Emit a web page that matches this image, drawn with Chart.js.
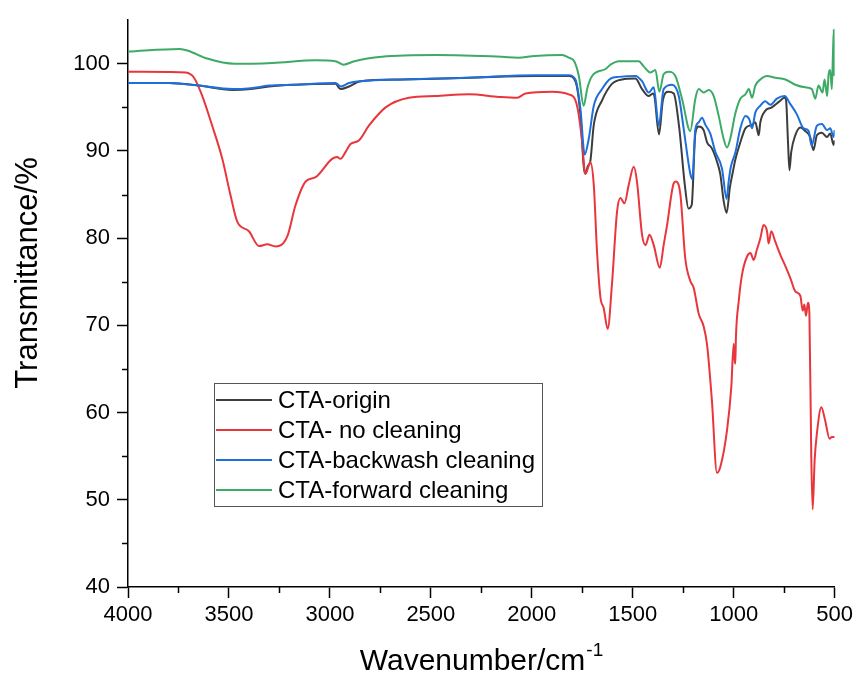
<!DOCTYPE html>
<html>
<head>
<meta charset="utf-8">
<script src="https://cdn.jsdelivr.net/npm/chart.js@4/dist/chart.umd.min.js"></script>
<style>
  html, body { margin: 0; padding: 0; background: #fff; }
  #wrap { width: 857px; height: 675px; }
</style>
</head>
<body>
<div id="wrap"><canvas id="ftir" width="857" height="675"></canvas></div>
<script>
// wavenumber (cm-1) / transmittance (%)
const seriesNames = ['CTA-origin', 'CTA- no cleaning', 'CTA-backwash cleaning', 'CTA-forward cleaning'];

const originX = [4000, 3797, 3649, 3484, 3392, 3302, 3176, 2972, 2948, 2905, 2848, 2642, 2312, 1982, 1817, 1784, 1759, 1743, 1734, 1722, 1711, 1693, 1652, 1603, 1553, 1487, 1454, 1421, 1400, 1392, 1370, 1351, 1324, 1297, 1270, 1243, 1224, 1208, 1190, 1173, 1149, 1132, 1108, 1083, 1066, 1050, 1035, 1019, 1005, 992, 967, 942, 909, 893, 876, 868, 844, 811, 778, 748, 741, 731, 724, 715, 695, 670, 646, 621, 605, 588, 563, 538, 522, 505, 500];
const originY = [97.8, 97.8, 97.5, 97.0, 97.1, 97.4, 97.6, 97.7, 97.1, 97.4, 98.0, 98.2, 98.4, 98.6, 98.6, 98.0, 94.1, 88.3, 87.4, 88.3, 88.7, 93.0, 95.8, 97.7, 98.2, 98.3, 97.1, 96.3, 96.6, 96.2, 91.9, 95.8, 96.8, 96.6, 92.7, 86.3, 83.4, 83.8, 92.0, 92.8, 92.4, 91.0, 90.3, 88.8, 87.3, 84.3, 82.9, 85.8, 87.5, 89.0, 91.0, 92.6, 93.0, 93.3, 91.8, 93.3, 94.6, 95.0, 95.6, 96.1, 95.9, 91.0, 87.8, 89.9, 91.8, 92.7, 92.3, 91.6, 90.1, 91.8, 92.1, 91.6, 92.0, 90.7, 91.2];

const noCleanX = [4000, 3797, 3714, 3673, 3632, 3583, 3533, 3492, 3459, 3401, 3351, 3310, 3269, 3211, 3170, 3120, 3071, 2989, 2964, 2948, 2922, 2898, 2857, 2807, 2724, 2609, 2477, 2312, 2163, 2073, 2031, 1900, 1817, 1776, 1751, 1738, 1734, 1710, 1693, 1677, 1660, 1644, 1624, 1603, 1578, 1561, 1541, 1520, 1495, 1479, 1454, 1437, 1417, 1396, 1366, 1347, 1330, 1297, 1286, 1264, 1240, 1215, 1198, 1173, 1149, 1132, 1108, 1083, 1066, 1033, 1012, 1000, 995, 992, 989, 975, 959, 934, 917, 901, 885, 868, 852, 835, 827, 814, 794, 769, 744, 719, 695, 670, 658, 650, 642, 632, 625, 616, 609, 599, 588, 566, 547, 525, 514, 500];
const noCleanY = [99.1, 99.06, 99.0, 98.4, 96.3, 92.9, 89.1, 84.9, 81.9, 80.8, 79.1, 79.3, 79.05, 80.2, 83.8, 86.5, 87.0, 89.1, 89.3, 89.1, 89.9, 90.8, 91.2, 92.9, 95.0, 96.1, 96.3, 96.5, 96.2, 96.1, 96.6, 96.8, 96.5, 95.2, 91.1, 87.6, 87.4, 88.7, 86.1, 78.5, 73.2, 72.0, 69.6, 74.7, 83.0, 84.6, 84.0, 86.1, 88.2, 86.5, 80.4, 79.2, 80.4, 79.2, 76.6, 79.2, 81.5, 86.3, 86.5, 85.0, 77.7, 75.1, 74.3, 71.3, 69.9, 67.8, 61.4, 53.1, 53.8, 58.0, 62.9, 67.9, 66.0, 65.6, 68.6, 72.8, 75.8, 77.9, 78.3, 77.5, 78.7, 80.0, 81.5, 80.8, 79.4, 80.8, 79.6, 78.1, 76.8, 75.4, 73.9, 73.4, 71.7, 72.4, 71.1, 72.6, 71.3, 55.3, 48.9, 54.6, 57.6, 60.6, 59.1, 57.0, 57.2, 57.2];

const backwashX = [4000, 3797, 3649, 3484, 3392, 3302, 3176, 2972, 2946, 2905, 2848, 2642, 2312, 1982, 1817, 1784, 1759, 1738, 1718, 1693, 1652, 1610, 1569, 1487, 1454, 1421, 1396, 1371, 1347, 1305, 1272, 1248, 1215, 1205, 1190, 1173, 1157, 1140, 1116, 1091, 1058, 1035, 1025, 1014, 992, 967, 942, 922, 909, 893, 868, 844, 819, 786, 748, 720, 687, 654, 629, 614, 588, 563, 538, 522, 505, 500];
const backwashY = [97.8, 97.8, 97.5, 97.1, 97.2, 97.5, 97.6, 97.8, 97.4, 97.8, 98.0, 98.2, 98.4, 98.7, 98.7, 98.2, 94.8, 89.6, 91.4, 95.2, 97.1, 98.3, 98.5, 98.6, 98.0, 96.7, 97.3, 92.9, 97.1, 97.6, 96.3, 92.6, 87.4, 86.8, 92.5, 93.3, 93.8, 93.0, 92.0, 89.9, 88.0, 84.5, 86.5, 88.2, 89.8, 92.6, 94.0, 93.6, 92.6, 94.4, 95.2, 95.7, 95.3, 96.0, 96.3, 95.4, 94.2, 92.6, 92.3, 90.6, 92.9, 93.1, 92.4, 92.6, 91.6, 92.4];

const forwardX = [4000, 3743, 3703, 3608, 3473, 3284, 3068, 2973, 2932, 2878, 2743, 2473, 2149, 2068, 1986, 1850, 1817, 1790, 1767, 1743, 1725, 1701, 1635, 1610, 1569, 1470, 1446, 1413, 1388, 1368, 1347, 1322, 1289, 1256, 1215, 1190, 1173, 1149, 1124, 1099, 1074, 1050, 1033, 1017, 992, 967, 942, 925, 909, 893, 868, 835, 794, 744, 695, 646, 613, 596, 580, 560, 550, 537, 530, 522, 514, 508, 504, 502, 500];
const forwardY = [101.4, 101.7, 101.5, 100.6, 100.0, 100.1, 100.4, 100.3, 99.9, 100.3, 100.8, 101.0, 100.8, 100.7, 100.9, 101.0, 100.7, 100.3, 98.6, 95.2, 97.2, 98.6, 99.4, 99.9, 100.3, 100.3, 99.7, 99.0, 99.3, 96.8, 98.8, 99.1, 98.6, 96.0, 92.3, 96.0, 97.1, 96.7, 97.0, 96.3, 94.0, 91.4, 90.4, 91.4, 94.3, 96.0, 96.5, 97.1, 96.1, 97.5, 98.2, 98.6, 98.4, 98.2, 97.6, 97.3, 97.1, 96.0, 97.5, 96.7, 98.2, 96.3, 98.8, 99.3, 97.1, 101.5, 103.9, 99.0, 98.6];

const xTicksMajor = [4000, 3500, 3000, 2500, 2000, 1500, 1000, 500];
const yTicksMajor = [40, 50, 60, 70, 80, 90, 100];

const lineColors = ['#3c3c3c', '#e8363c', '#1e6fd9', '#3daa66'];
const FONT = 'Arial, "Liberation Sans", sans-serif';

function toPoints(xs, ys) {
    return xs.map((x, i) => ({ x: x, y: ys[i] }));
}

// outward minor ticks (major ones are drawn by Chart.js)
const minorTicks = {
    id: 'minorTicks',
    afterDraw(chart) {
        const c = chart.ctx;
        const xs = chart.scales.x;
        const ys = chart.scales.y;
        const area = chart.chartArea;
        c.save();
        c.strokeStyle = '#000';
        c.lineWidth = 1.5;
        xs.ticks.forEach(t => {
            if (xTicksMajor.includes(t.value)) return;
            const px = Math.round(xs.getPixelForValue(t.value)) + 0.5;
            c.beginPath();
            c.moveTo(px, area.bottom);
            c.lineTo(px, area.bottom + 6);
            c.stroke();
        });
        ys.ticks.forEach(t => {
            if (yTicksMajor.includes(t.value) || t.value >= 105) return;
            const py = Math.round(ys.getPixelForValue(t.value)) + 0.5;
            c.beginPath();
            c.moveTo(area.left, py);
            c.lineTo(area.left - 6, py);
            c.stroke();
        });
        c.restore();
    }
};

const axisTitles = {
    id: 'axisTitles',
    afterDraw(chart) {
        const c = chart.ctx;
        c.save();
        c.fillStyle = '#000';
        c.font = '31px ' + FONT;
        c.textBaseline = 'middle';
        c.textAlign = 'center';
        c.translate(28, 273);
        c.rotate(-Math.PI / 2);
        c.fillText('Transmittance/%', 0, 0);
        c.restore();

        c.save();
        c.fillStyle = '#000';
        c.font = '30px ' + FONT;
        c.textBaseline = 'alphabetic';
        const main = 'Wavenumber/cm';
        const w = c.measureText(main).width;
        c.font = '19px ' + FONT;
        const sw = c.measureText('-1').width;
        const x0 = 481 - (w + sw) / 2;
        c.font = '30px ' + FONT;
        c.fillText(main, x0, 670);
        c.font = '19px ' + FONT;
        c.fillText('-1', x0 + w + 1, 656);
        c.restore();
    }
};

const boxLegend = {
    id: 'boxLegend',
    afterDraw(chart) {
        const c = chart.ctx;
        c.save();
        c.strokeStyle = '#555';
        c.lineWidth = 1;
        c.strokeRect(214.5, 383.5, 328, 123);
        c.font = '24px ' + FONT;
        c.textBaseline = 'middle';
        c.fillStyle = '#000';
        seriesNames.forEach((name, i) => {
            const y = 400 + i * 30;
            c.strokeStyle = lineColors[i];
            c.lineWidth = 2;
            c.beginPath();
            c.moveTo(216, y);
            c.lineTo(272, y);
            c.stroke();
            c.fillText(name, 278, y + 1);
        });
        c.restore();
    }
};

const allX = [originX, noCleanX, backwashX, forwardX];
const allY = [originY, noCleanY, backwashY, forwardY];

new Chart(document.getElementById('ftir'), {
    type: 'line',
    data: {
        datasets: seriesNames.map((name, i) => ({
            label: name,
            data: toPoints(allX[i], allY[i]),
            borderColor: lineColors[i],
            borderWidth: 2,
            pointRadius: 0,
            cubicInterpolationMode: 'monotone',
            fill: false,
            order: 4 - i
        }))
    },
    options: {
        responsive: false,
        animation: false,
        events: [],
        layout: { padding: { left: 0, right: 21, top: 17, bottom: 0 } },
        plugins: { legend: { display: false }, tooltip: { enabled: false } },
        scales: {
            x: {
                type: 'linear',
                reverse: true,
                min: 500,
                max: 4000,
                afterBuildTicks: s => {
                    s.ticks = [];
                    for (let v = 4000; v >= 500; v -= 250) s.ticks.push({ value: v });
                },
                ticks: {
                    autoSkip: false,
                    maxRotation: 0,
                    padding: 4,
                    color: '#000',
                    font: { family: FONT, size: 22 },
                    callback: v => (xTicksMajor.includes(v) ? String(v) : '')
                },
                grid: {
                    drawOnChartArea: false,
                    tickLength: 11,
                    tickWidth: 1.5,
                    tickColor: ctx => (ctx.tick && xTicksMajor.includes(ctx.tick.value) ? '#000' : 'rgba(0,0,0,0)')
                },
                border: { color: '#000', width: 1.5 },
                afterFit: s => { s.height = 88; }
            },
            y: {
                min: 40,
                max: 105,
                afterBuildTicks: s => {
                    s.ticks = [];
                    for (let v = 40; v <= 105; v += 5) s.ticks.push({ value: v });
                },
                ticks: {
                    autoSkip: false,
                    padding: 7,
                    color: '#000',
                    font: { family: FONT, size: 22 },
                    callback: v => (yTicksMajor.includes(v) ? String(v) : '')
                },
                grid: {
                    drawOnChartArea: false,
                    tickLength: 11,
                    tickWidth: 1.5,
                    tickColor: ctx => (ctx.tick && yTicksMajor.includes(ctx.tick.value) ? '#000' : 'rgba(0,0,0,0)')
                },
                border: { color: '#000', width: 1.5 },
                afterFit: s => { s.width = 128; }
            }
        }
    },
    plugins: [minorTicks, axisTitles, boxLegend]
});
</script>
</body>
</html>
